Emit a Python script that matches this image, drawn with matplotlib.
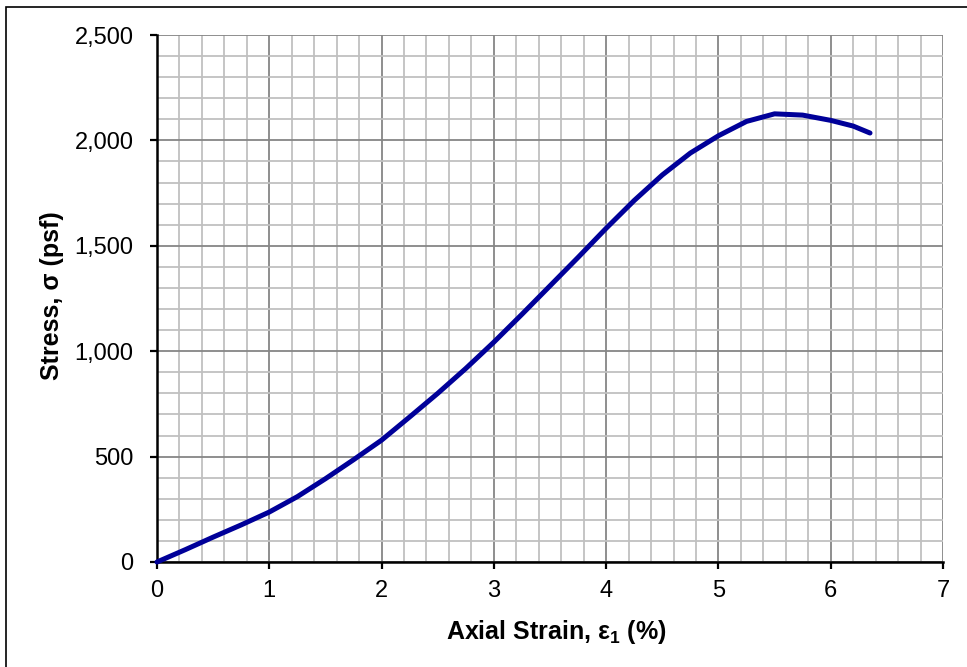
import matplotlib
matplotlib.use("Agg")
import matplotlib.pyplot as plt
from matplotlib.ticker import MultipleLocator, FuncFormatter
from matplotlib.patches import Rectangle

strain = [0, 0.25, 0.5, 0.75, 1.0, 1.25, 1.5, 1.75, 2.0, 2.25, 2.5, 2.75, 3.0,
          3.25, 3.5, 3.75, 4.0, 4.25, 4.5, 4.75, 5.0, 5.25, 5.5, 5.75, 6.0, 6.2, 6.35]
stress = [0, 58, 118, 176, 237, 310, 395, 485, 578, 688, 800, 918, 1043,
          1175, 1310, 1445, 1583, 1715, 1836, 1940, 2022, 2090, 2126, 2120, 2095, 2068, 2035]

x_ticks = [0, 1, 2, 3, 4, 5, 6, 7]
y_ticks = [0, 500, 1000, 1500, 2000, 2500]

plt.rcParams['font.family'] = ['Liberation Sans', 'DejaVu Sans']
plt.rcParams['mathtext.fontset'] = 'custom'
plt.rcParams['mathtext.rm'] = 'Liberation Sans'
plt.rcParams['mathtext.bf'] = 'Liberation Sans:bold'
plt.rcParams['mathtext.it'] = 'Liberation Sans:italic'

fig = plt.figure(figsize=(9.67, 6.67), dpi=100)
W, H = 967, 667
L, R, T, B = 157, 943, 35, 562
ax = fig.add_axes([L / W, 1 - B / H, (R - L) / W, (B - T) / H])

# outer frame
fig.patches.append(Rectangle((6 / W, -0.1), 1.2, (667 - 7) / H + 0.1, transform=fig.transFigure,
                             fill=False, edgecolor='black', linewidth=1.2))

ax.set_xlim(0, 7)
ax.set_ylim(0, 2500)
ax.set_xticks(x_ticks)
ax.set_yticks(y_ticks)
ax.xaxis.set_minor_locator(MultipleLocator(0.2))
ax.yaxis.set_minor_locator(MultipleLocator(100))
ax.yaxis.set_major_formatter(FuncFormatter(lambda v, p: f"{int(v):,}"))

ax.grid(which='minor', color='#c0c0c0', linewidth=1.3)
ax.grid(which='major', color='#868686', linewidth=1.3)
ax.set_axisbelow(True)

ax.tick_params(which='major', direction='out', length=5, width=1.6, labelsize=17)
ax.tick_params(axis='y', which='major', pad=12)
ax.tick_params(axis='x', which='major', pad=8)
ax.tick_params(which='minor', length=0)

for s in ['top', 'right']:
    ax.spines[s].set_visible(False)
for s in ['left', 'bottom']:
    ax.spines[s].set_linewidth(1.8)
    ax.spines[s].set_color('black')

ax.plot(strain, stress, color='#000099', linewidth=3.6, solid_capstyle='round',
        solid_joinstyle='round', clip_on=False, zorder=3)

ax.set_xlabel(r'Axial Strain, $\mathbf{\varepsilon}_\mathbf{1}$ (%)', fontsize=18, fontweight='bold')
ax.set_ylabel('Stress, σ (psf)', fontsize=18, fontweight='bold')
ax.xaxis.set_label_coords((556 - L) / (R - L), (B - 618) / (B - T))
ax.yaxis.set_label_coords((64 - L) / (R - L), 0.5 + (0.5 * (B + T) - 296) / (B - T))

fig.savefig('out.png', dpi=100)
